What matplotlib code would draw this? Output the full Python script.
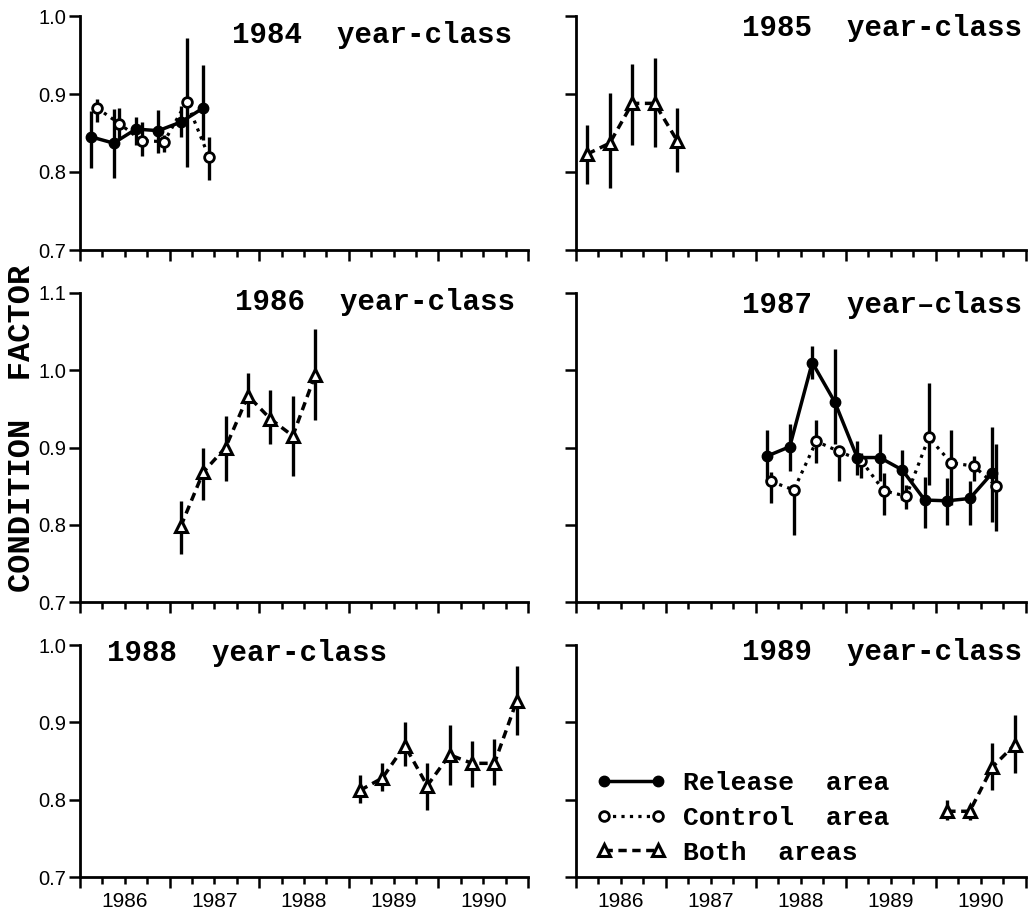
"""
condition factor by year-class, six panels
"""

import numpy as np
import matplotlib
matplotlib.use("Agg")
import matplotlib.pyplot as plt
from matplotlib.ticker import FixedLocator, FuncFormatter, NullFormatter
from matplotlib.lines import Line2D

# ---- data (decimal year, condition factor, error bar low / high) ----
# 1984 year-class
rel84_x = [1986.125, 1986.375, 1986.625, 1986.875, 1987.125, 1987.375]
rel84_y = [0.845, 0.837, 0.855, 0.853, 0.864, 0.882]
rel84_lo = [0.805, 0.792, 0.834, 0.824, 0.845, 0.841]
rel84_hi = [0.878, 0.881, 0.870, 0.879, 0.885, 0.937]
ctl84_x = [1986.19, 1986.44, 1986.69, 1986.94, 1987.19, 1987.44]
ctl84_y = [0.882, 0.862, 0.840, 0.839, 0.890, 0.819]
ctl84_lo = [0.864, 0.844, 0.820, 0.826, 0.807, 0.790]
ctl84_hi = [0.894, 0.882, 0.864, 0.847, 0.972, 0.845]

# 1985 year-class
both85_x = [1986.125, 1986.375, 1986.625, 1986.875, 1987.125]
both85_y = [0.823, 0.837, 0.888, 0.888, 0.840]
both85_lo = [0.785, 0.779, 0.835, 0.832, 0.800]
both85_hi = [0.860, 0.901, 0.939, 0.946, 0.882]

# 1986 year-class
both86_x = [1987.125, 1987.375, 1987.625, 1987.875, 1988.125, 1988.375, 1988.625]
both86_y = [0.798, 0.868, 0.900, 0.967, 0.937, 0.915, 0.994]
both86_lo = [0.762, 0.832, 0.856, 0.939, 0.904, 0.863, 0.936]
both86_hi = [0.831, 0.900, 0.941, 0.997, 0.974, 0.967, 1.053]

# 1987 year-class
rel87_x = [1988.125, 1988.375, 1988.625, 1988.875, 1989.125, 1989.375,
           1989.625, 1989.875, 1990.125, 1990.375, 1990.625]
rel87_y = [0.889, 0.901, 1.010, 0.959, 0.887, 0.887, 0.871, 0.832, 0.831, 0.834, 0.867]
rel87_lo = [0.856, 0.869, 0.989, 0.905, 0.865, 0.857, 0.832, 0.796, 0.800, 0.800, 0.804]
rel87_hi = [0.923, 0.930, 1.032, 1.027, 0.908, 0.917, 0.897, 0.862, 0.860, 0.856, 0.926]
ctl87_x = [1988.17, 1988.42, 1988.67, 1988.92, 1989.17, 1989.42,
           1989.67, 1989.92, 1990.17, 1990.42, 1990.67]
ctl87_y = [0.856, 0.845, 0.908, 0.895, 0.883, 0.844, 0.837, 0.913, 0.880, 0.876, 0.850]
ctl87_lo = [0.828, 0.787, 0.880, 0.856, 0.861, 0.813, 0.820, 0.852, 0.825, 0.856, 0.792]
ctl87_hi = [0.868, 0.850, 0.936, 0.897, 0.893, 0.867, 0.852, 0.983, 0.923, 0.889, 0.904]

# 1988 year-class
both88_x = [1989.125, 1989.375, 1989.625, 1989.875, 1990.125, 1990.375, 1990.625, 1990.875]
both88_y = [0.812, 0.828, 0.870, 0.818, 0.858, 0.847, 0.847, 0.928]
both88_lo = [0.796, 0.811, 0.843, 0.787, 0.819, 0.817, 0.819, 0.884]
both88_hi = [0.832, 0.848, 0.900, 0.848, 0.897, 0.876, 0.878, 0.973]

# 1989 year-class
both89_x = [1990.125, 1990.375, 1990.625, 1990.875]
both89_y = [0.785, 0.785, 0.842, 0.871]
both89_lo = [0.774, 0.774, 0.813, 0.835]
both89_hi = [0.800, 0.793, 0.873, 0.910]

years = [1986, 1987, 1988, 1989, 1990, 1991]
titles = ["1984  year-class", "1985  year-class", "1986  year-class",
          "1987  year\u2013class", "1988  year-class", "1989  year-class"]
legend_labels = ["Release  area", "Control  area", "Both  areas"]

MONO = "Liberation Mono"
SANS = "Liberation Sans"

# line styles for the three series
STYLE = {
    "rel": dict(ls="-", marker="o", mfc="k", mec="k", ms=7.5, lw=2.5),
    "ctl": dict(ls=":", marker="o", mfc="white", mec="k", mew=2.0, ms=7, lw=2.3),
    "both": dict(ls="--", dashes=(2.4, 1.6), marker="^", mfc="white", mec="k", mew=2.2, ms=9, lw=2.5),
}


def draw_series(ax, x, y, lo, hi, kind):
    x = np.asarray(x)
    y = np.asarray(y)
    yerr = [y - np.asarray(lo), np.asarray(hi) - y]
    ax.errorbar(x, y, yerr=yerr, fmt="none", ecolor="k", elinewidth=2.4, capsize=0, zorder=2)
    ax.plot(x, y, color="k", zorder=3, **STYLE[kind])


fig = plt.figure(figsize=(10.29, 9.10), dpi=100)

col_x = [80 / 1029, 576 / 1029]
col_w = [448 / 1029, 450 / 1029]
row_b = [1 - 250 / 910, 1 - 602 / 910, 1 - 877 / 910]
row_h = [234 / 910, 309 / 910, 232 / 910]
row_ylim = [(0.7, 1.0), (0.7, 1.1), (0.7, 1.0)]

axes = []
for r in range(3):
    for c in range(2):
        ax = fig.add_axes([col_x[c], row_b[r], col_w[c], row_h[r]])
        ax.set_xlim(1986, 1991)
        ax.set_ylim(*row_ylim[r])
        for s in ["top", "right"]:
            ax.spines[s].set_visible(False)
        for s in ["left", "bottom"]:
            ax.spines[s].set_linewidth(2.0)
        yt = np.round(np.arange(row_ylim[r][0], row_ylim[r][1] + 0.001, 0.1), 1)
        ax.yaxis.set_major_locator(FixedLocator(yt))
        ax.yaxis.set_major_formatter(FuncFormatter(lambda v, p: "%.1f" % v))
        ax.xaxis.set_major_locator(FixedLocator(years))
        ax.xaxis.set_major_formatter(NullFormatter())
        quarters = [y + q for y in years[:-1] for q in (0.25, 0.5, 0.75)]
        ax.xaxis.set_minor_locator(FixedLocator(quarters))
        if r == 2:
            ax.xaxis.set_minor_formatter(
                FuncFormatter(lambda v, p: str(int(v)) if abs(v % 1 - 0.5) < 0.01 else ""))
        else:
            ax.xaxis.set_minor_formatter(NullFormatter())
        ax.tick_params(axis="both", which="major", direction="out", length=8, width=1.8,
                       labelsize=14.5, pad=2)
        ax.tick_params(axis="x", which="minor", direction="out", length=5, width=1.8,
                       labelsize=15, pad=6)
        if c == 1:
            ax.tick_params(axis="y", labelleft=False)
        for lab in ax.get_xticklabels(which="both") + ax.get_yticklabels():
            lab.set_family(SANS)
        ax.patch.set_visible(False)
        axes.append(ax)

# panels
draw_series(axes[0], ctl84_x, ctl84_y, ctl84_lo, ctl84_hi, "ctl")
draw_series(axes[0], rel84_x, rel84_y, rel84_lo, rel84_hi, "rel")
draw_series(axes[1], both85_x, both85_y, both85_lo, both85_hi, "both")
draw_series(axes[2], both86_x, both86_y, both86_lo, both86_hi, "both")
draw_series(axes[3], ctl87_x, ctl87_y, ctl87_lo, ctl87_hi, "ctl")
draw_series(axes[3], rel87_x, rel87_y, rel87_lo, rel87_hi, "rel")
draw_series(axes[4], both88_x, both88_y, both88_lo, both88_hi, "both")
draw_series(axes[5], both89_x, both89_y, both89_lo, both89_hi, "both")

# titles (position in axes fraction)
title_pos = [(0.965, 0.92, "right"), (0.991, 0.95, "right"),
             (0.972, 0.97, "right"), (0.991, 0.96, "right"),
             (0.06, 0.965, "left"), (0.991, 0.97, "right")]
for ax, t, (tx, ty, ha) in zip(axes, titles, title_pos):
    ax.text(tx, ty, t, transform=ax.transAxes, ha=ha, va="center",
            family=MONO, weight="bold", fontsize=21)

# legend in the 1989 panel
handles = [Line2D([], [], color="k", **STYLE[k]) for k in ("rel", "ctl", "both")]
axes[5].legend(handles, legend_labels, loc="upper left", bbox_to_anchor=(0.045, 0.455),
               frameon=False, numpoints=2, handlelength=2.65, handletextpad=0.65,
               labelspacing=0.4, borderpad=0, borderaxespad=0,
               prop=dict(family=MONO, weight="bold", size=19))

fig.text(0.021, 0.529, "CONDITION  FACTOR", rotation=90, ha="center", va="center",
         family=MONO, weight="bold", fontsize=23)

plt.savefig("out.png", dpi=100)
